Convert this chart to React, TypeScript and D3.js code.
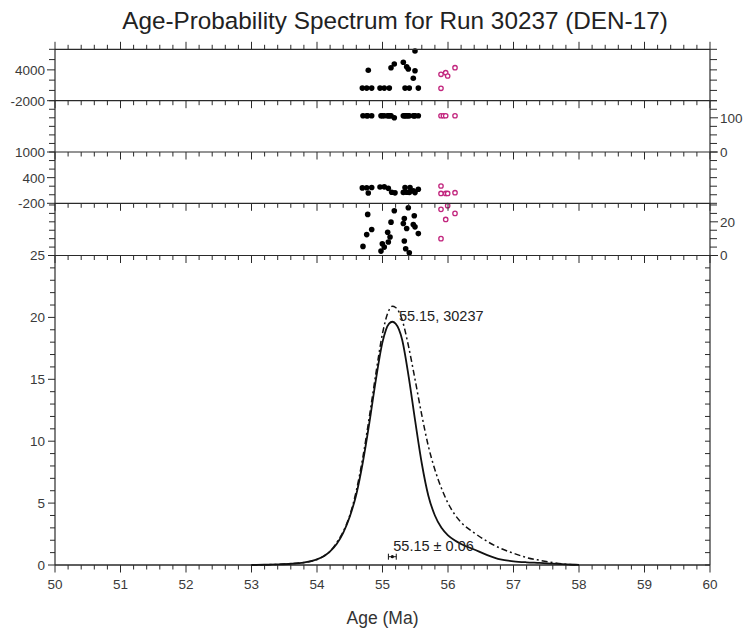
import * as d3 from "d3";
import React from "react";

const chartTitle = "Age-Probability Spectrum for Run 30237 (DEN-17)";
const xLabel = "Age (Ma)";
const peakLabel = "55.15, 30237";
const meanLabel = "55.15 \u00b1 0.06";

// age axis
const ageTicks = d3.range(0, 51).map((i) => 50 + i * 0.2);
const ageLabels = [50, 51, 52, 53, 54, 55, 56, 57, 58, 59, 60];

// probability curves
const curveAges = [53.0, 53.2, 53.4, 53.6, 53.8, 54.0, 54.1, 54.2, 54.3, 54.4, 54.5, 54.6, 54.7, 54.8, 54.9, 55.0, 55.1, 55.15, 55.2, 55.3, 55.4, 55.5, 55.6, 55.7, 55.8, 55.9, 56.0, 56.1, 56.2, 56.4, 56.6, 56.8, 57.0, 57.2, 57.4, 57.6, 57.8, 58.0];
const solidProb = [0, 0.02, 0.05, 0.1, 0.2, 0.45, 0.7, 1.1, 1.7, 2.6, 3.9, 5.7, 8.3, 11.5, 15.0, 18.0, 19.5, 19.65, 19.5, 18.2, 15.2, 11.6, 8.2, 5.6, 4.0, 3.0, 2.4, 2.0, 1.7, 1.25, 0.8, 0.45, 0.3, 0.22, 0.17, 0.11, 0.05, 0.01];
const dashedProb = [0, 0.02, 0.05, 0.1, 0.2, 0.45, 0.7, 1.1, 1.8, 2.7, 4.0, 6.0, 8.7, 12.0, 15.5, 18.7, 20.6, 20.9, 20.8, 19.8, 17.6, 14.9, 12.1, 9.6, 7.7, 6.2, 5.0, 4.1, 3.45, 2.6, 1.9, 1.35, 0.95, 0.6, 0.38, 0.2, 0.07, 0.02];
const meanAge = 55.15;
const meanErr = 0.06;
const meanMarkY = 0.67;

// panel 1
const p1Ticks = [-2000, 0, 2000, 4000, 6000, 8000];
const p1LeftLabels = [4000, -2000];
const p1BlackAge = [54.692, 54.759, 54.835, 54.962, 55.027, 55.104, 55.344, 55.409, 55.547, 54.783, 55.13, 55.18, 55.318, 55.369, 55.394, 55.496, 55.47, 55.496];
const p1BlackVal = [450, 450, 450, 450, 450, 450, 450, 450, 450, 3915, 4420, 5140, 5470, 4610, 4170, 3840, 2360, 7670];
const p1OpenAge = [55.893, 55.965, 55.995, 56.107, 55.893];
const p1OpenVal = [3136, 3447, 2805, 4420, 412];

// panel 2
const p2Ticks = [0, 25, 50, 75, 100, 125, 150];
const p2RightLabels = [100, 0];
const p2BlackAge = [54.702, 54.759, 54.774, 54.835, 54.977, 54.997, 55.027, 55.079, 55.089, 55.115, 55.13, 55.18, 55.318, 55.333, 55.354, 55.369, 55.394, 55.409, 55.47, 55.485, 55.496, 55.547];
const p2BlackVal = [106, 106, 106, 106, 106, 106, 106, 106, 106, 106, 106, 100, 106, 106, 106, 106, 106, 106, 106, 106, 106, 106];
const p2OpenAge = [55.893, 55.93, 55.965, 56.107];
const p2OpenVal = [106, 106, 106, 106];

// panel 3
const p3Ticks = [-200, 0, 200, 400, 600, 800, 1000];
const p3LeftLabels = [1000, 400, -200];
const p3BlackAge = [54.692, 54.759, 54.783, 54.835, 54.962, 55.027, 55.089, 55.141, 55.191, 55.318, 55.344, 55.369, 55.409, 55.42, 55.47, 55.496, 55.547];
const p3BlackVal = [160, 165, 40, 170, 180, 185, 150, 60, 45, 55, 170, 60, 55, 170, 90, 50, 130];
const p3OpenAge = [55.893, 55.893, 55.965, 55.995, 56.107];
const p3OpenVal = [205, 30, 30, 30, 48];

// panel 4
const p4Ticks = [0, 5, 10, 15, 20, 25, 30];
const p4RightLabels = [20, 0];
const p4BlackAge = [54.774, 55.18, 55.394, 55.485, 55.333, 55.13, 55.318, 55.47, 55.496, 55.369, 54.835, 54.759, 55.079, 55.115, 55.089, 55.547, 54.997, 55.027, 55.333, 54.702, 54.977, 55.354, 55.409];
const p4BlackVal = [24.4, 26.6, 28.4, 23.6, 22.0, 19.8, 19.0, 18.4, 17.0, 16.0, 15.4, 12.4, 13.8, 11.0, 8.0, 13.0, 7.0, 5.0, 8.6, 5.4, 2.6, 4.0, 1.6];
const p4OpenAge = [55.893, 55.995, 56.107, 55.965, 55.893];
const p4OpenVal = [27.4, 29.6, 25.0, 21.4, 10.0];

// main plot
const probTicks = d3.range(0, 26);
const probLabels = [0, 5, 10, 15, 20, 25];

const FONT = "'Liberation Sans', Arial, Helvetica, sans-serif";
const AXIS = "#2a2a2a";
const LABEL = "#3a3a3a";
const MAGENTA = "#c2267e";

export default function App() {
  const left = 55;
  const right = 710;
  const x = d3.scaleLinear().domain([50, 60]).range([left, right]);

  const bounds = [49.3, 100.7, 152, 203.3, 255.5];
  const bottom = 565;

  const panels = [
    { domain: [-2000, 8000], ticks: p1Ticks, leftLabels: p1LeftLabels, rightLabels: [] as number[], bAge: p1BlackAge, bVal: p1BlackVal, oAge: p1OpenAge, oVal: p1OpenVal },
    { domain: [0, 150], ticks: p2Ticks, leftLabels: [] as number[], rightLabels: p2RightLabels, bAge: p2BlackAge, bVal: p2BlackVal, oAge: p2OpenAge, oVal: p2OpenVal },
    { domain: [-200, 1000], ticks: p3Ticks, leftLabels: p3LeftLabels, rightLabels: [] as number[], bAge: p3BlackAge, bVal: p3BlackVal, oAge: p3OpenAge, oVal: p3OpenVal },
    { domain: [0, 31], ticks: p4Ticks, leftLabels: [] as number[], rightLabels: p4RightLabels, bAge: p4BlackAge, bVal: p4BlackVal, oAge: p4OpenAge, oVal: p4OpenVal },
  ];

  const yMain = d3.scaleLinear().domain([0, 25]).range([bottom, bounds[4]]);

  const line = d3
    .line<number>()
    .x((d, i) => x(curveAges[i]))
    .y((d) => yMain(d))
    .curve(d3.curveMonotoneX);

  // x ticks along a horizontal boundary; dir -1 = up, 1 = down
  const xTickRow = (y: number, dir: number, key: string) =>
    ageTicks.map((a, i) => {
      const major = i % 5 === 0;
      const len = major ? 7.5 : 4.5;
      return (
        <line key={key + i} x1={x(a)} x2={x(a)} y1={y} y2={y + dir * len} stroke={AXIS} strokeWidth={1} />
      );
    });

  return (
    <svg width={743} height={635} style={{ position: "absolute", left: 0, top: 0, background: "#fff" }} fontFamily={FONT}>
      <text x={395} y={29} textAnchor="middle" fontSize={24.3} fill="#222">
        {chartTitle}
      </text>

      {panels.map((p, pi) => {
        const y = d3.scaleLinear().domain(p.domain).range([bounds[pi + 1], bounds[pi]]);
        return (
          <g key={"panel" + pi}>
            {p.ticks.map((t) => {
              const lab = p.leftLabels.includes(t);
              return <line key={"lt" + t} x1={left} x2={left - (lab ? 8 : 6)} y1={y(t)} y2={y(t)} stroke={AXIS} />;
            })}
            {p.ticks.map((t) => {
              const lab = p.rightLabels.includes(t);
              return <line key={"rt" + t} x1={right} x2={right + (lab ? 8 : 7)} y1={y(t)} y2={y(t)} stroke={AXIS} />;
            })}
            {p.leftLabels.map((t) => (
              <text key={"ll" + t} x={left - 10} y={y(t)} dy="0.36em" textAnchor="end" fontSize={13.5} fill={LABEL}>
                {t}
              </text>
            ))}
            {p.rightLabels.map((t) => (
              <text key={"rl" + t} x={right + 10} y={y(t)} dy="0.36em" textAnchor="start" fontSize={13.5} fill={LABEL}>
                {t}
              </text>
            ))}
            {p.bAge.map((a, i) => (
              <circle key={"b" + i} cx={x(a)} cy={y(p.bVal[i])} r={2.8} fill="#000" />
            ))}
            {p.oAge.map((a, i) => (
              <circle key={"o" + i} cx={x(a)} cy={y(p.oVal[i])} r={2.2} fill="#fff" stroke={MAGENTA} strokeWidth={1.3} />
            ))}
          </g>
        );
      })}

      {/* main plot y ticks */}
      {probTicks.map((t) => {
        const lab = probLabels.includes(t);
        return (
          <g key={"pt" + t}>
            <line x1={left} x2={left - (lab ? 7 : 5)} y1={yMain(t)} y2={yMain(t)} stroke={AXIS} />
            <line x1={right} x2={right - 5} y1={yMain(t)} y2={yMain(t)} stroke={AXIS} />
          </g>
        );
      })}
      {probLabels.map((t) => (
        <text key={"pl" + t} x={left - 10} y={yMain(t)} dy="0.36em" textAnchor="end" fontSize={13.5} fill={LABEL}>
          {t}
        </text>
      ))}

      {/* x ticks on every boundary */}
      {xTickRow(bounds[0], -1, "t0")}
      {bounds.slice(1).map((b, bi) => (
        <g key={"xb" + bi}>{xTickRow(b, 1, "tb" + bi)}</g>
      ))}
      {xTickRow(bottom, 1, "bt")}
      {ageLabels.map((a) => (
        <text key={"xl" + a} x={x(a)} y={589} textAnchor="middle" fontSize={13.5} fill={LABEL}>
          {a}
        </text>
      ))}

      {/* frame lines */}
      {bounds.map((b, i) => (
        <line key={"hb" + i} x1={left} x2={right} y1={b} y2={b} stroke={AXIS} strokeWidth={1.2} />
      ))}
      <line x1={left} x2={right} y1={bottom} y2={bottom} stroke={AXIS} strokeWidth={1.5} />
      <line x1={left} x2={left} y1={bounds[0]} y2={bottom} stroke={AXIS} strokeWidth={1.2} />
      <line x1={right} x2={right} y1={bounds[0]} y2={bottom} stroke={AXIS} strokeWidth={1.2} />

      {/* curves */}
      <path d={line(dashedProb) || ""} fill="none" stroke="#111" strokeWidth={1.5} strokeDasharray="6,3,2,3" />
      <path d={line(solidProb) || ""} fill="none" stroke="#111" strokeWidth={1.8} />

      <text x={x(55.25)} y={321} fontSize={14.5} fill="#222">
        {peakLabel}
      </text>

      {/* weighted mean marker */}
      <g stroke="#111" strokeWidth={1}>
        <line x1={x(meanAge - meanErr)} x2={x(meanAge + meanErr)} y1={yMain(meanMarkY)} y2={yMain(meanMarkY)} />
        <line x1={x(meanAge - meanErr)} x2={x(meanAge - meanErr)} y1={yMain(meanMarkY) - 3} y2={yMain(meanMarkY) + 3} />
        <line x1={x(meanAge + meanErr)} x2={x(meanAge + meanErr)} y1={yMain(meanMarkY) - 3} y2={yMain(meanMarkY) + 3} />
      </g>
      <circle cx={x(meanAge)} cy={yMain(meanMarkY)} r={1.6} fill="#111" />
      <text x={x(55.165)} y={551} fontSize={14.5} fill="#222">
        {meanLabel}
      </text>

      <text x={382.5} y={624} textAnchor="middle" fontSize={17.5} fill="#333">
        {xLabel}
      </text>
    </svg>
  );
}
